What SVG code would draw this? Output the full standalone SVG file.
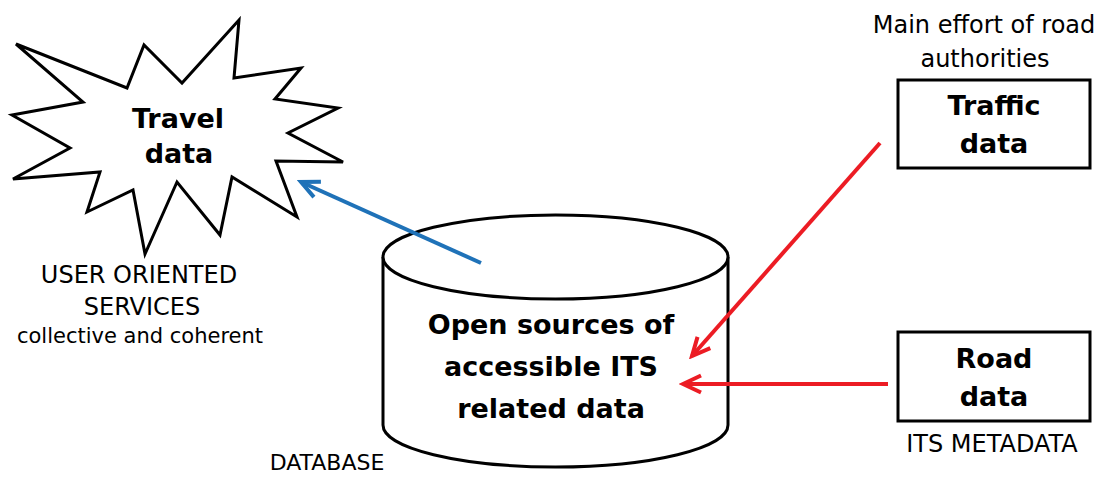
<svg xmlns="http://www.w3.org/2000/svg" width="1100" height="477" viewBox="0 0 1100 477">
  <style>
    .shape { fill: #ffffff; stroke: #000000; stroke-width: 3; stroke-linejoin: miter; }
    .title { font-family: "DejaVu Sans", Verdana, sans-serif; font-weight: bold; font-size: 27px; fill: #000000; text-anchor: middle; }
    .note { font-family: "DejaVu Sans", Verdana, sans-serif; font-size: 24px; fill: #000000; text-anchor: middle; }
    .small { font-size: 21px; }
    .flow-blue { stroke: #1f72b8; stroke-width: 4; fill: none; }
    .flow-red { stroke: #ec1c24; stroke-width: 4; fill: none; }
  </style>
  <defs>
    <marker id="head-blue" markerUnits="userSpaceOnUse" viewBox="-22 -12 26 24" refX="0" refY="0" markerWidth="26" markerHeight="24" orient="auto">
      <path d="M-18,-8.5 L0,0 L-18,8.5" fill="none" stroke="#1f72b8" stroke-width="4"/>
    </marker>
    <marker id="head-red" markerUnits="userSpaceOnUse" viewBox="-22 -12 26 24" refX="0" refY="0" markerWidth="26" markerHeight="24" orient="auto">
      <path d="M-18,-8.5 L0,0 L-18,8.5" fill="none" stroke="#ec1c24" stroke-width="4"/>
    </marker>
  </defs>

  <rect width="1100" height="477" fill="#ffffff"/>

  <!-- Travel data: starburst with caption -->
  <g id="node-travel">
    <polygon class="shape" points="16,44 127,88 144,45 182,83 239,20 234,78 301,68 275,99 338,108 288,133 343,162 276,161 297,217 232,177 220,235 177,182 145,254 133,190 87,212 100,172 13,179 70,148 12,115 83,102"/>
    <text class="title" x="178" y="128">Travel</text>
    <text class="title" x="179" y="163">data</text>
    <text class="note" x="139" y="283">USER ORIENTED</text>
    <text class="note" x="142" y="315">SERVICES</text>
    <text class="note small" x="140" y="343">collective and coherent</text>
  </g>

  <!-- Database cylinder -->
  <g id="node-database">
    <path class="shape" d="M383,257 L383,425 A172.5,42 0 0 0 728,425 L728,257"/>
    <ellipse class="shape" cx="555.5" cy="257" rx="172.5" ry="42"/>
    <text class="title" x="551" y="334">Open sources of</text>
    <text class="title" x="551" y="376">accessible ITS</text>
    <text class="title" x="551" y="418">related data</text>
    <text class="note" x="327" y="470" style="font-size:22px">DATABASE</text>
  </g>

  <!-- Traffic data box -->
  <g id="node-traffic">
    <text class="note" x="984" y="33">Main effort of road</text>
    <text class="note" x="985" y="67">authorities</text>
    <rect class="shape" x="898" y="80" width="192" height="88"/>
    <text class="title" x="994" y="115">Traffic</text>
    <text class="title" x="994" y="153">data</text>
  </g>

  <!-- Road data box -->
  <g id="node-road">
    <rect class="shape" x="898" y="332" width="192" height="89"/>
    <text class="title" x="994" y="368">Road</text>
    <text class="title" x="994" y="406">data</text>
    <text class="note" x="992" y="452">ITS METADATA</text>
  </g>

  <!-- Data flows -->
  <g id="connectors">
    <line class="flow-blue" x1="481" y1="263" x2="301" y2="182" marker-end="url(#head-blue)"/>
    <line class="flow-red" x1="880" y1="143" x2="692" y2="356" marker-end="url(#head-red)"/>
    <line class="flow-red" x1="888" y1="384" x2="683" y2="384" marker-end="url(#head-red)"/>
  </g>
</svg>
